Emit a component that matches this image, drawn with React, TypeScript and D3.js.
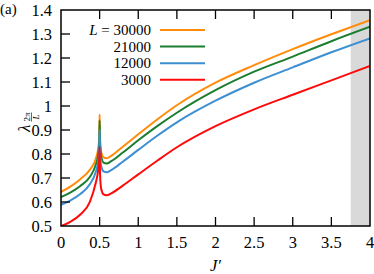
import * as d3 from "d3";

// J' sample points shared by all series
const jValues = [
  0, 0.125, 0.25, 0.375, 0.45, 0.48, 0.495, 0.5, 0.505, 0.52, 0.55, 0.59, 0.65,
  0.8, 1.0, 1.25, 1.5, 2.0, 2.5, 3.0, 3.5, 4.0,
];

const lambda30000 = [
  0.642, 0.665, 0.695, 0.735, 0.78, 0.82, 0.87, 0.965, 0.87, 0.81, 0.786, 0.782,
  0.792, 0.83, 0.882, 0.945, 1.003, 1.097, 1.17, 1.237, 1.299, 1.358,
];
const lambda21000 = [
  0.62, 0.64, 0.667, 0.705, 0.755, 0.795, 0.845, 0.94, 0.85, 0.79, 0.764, 0.76,
  0.77, 0.806, 0.857, 0.917, 0.972, 1.066, 1.143, 1.206, 1.27, 1.33,
];
const lambda12000 = [
  0.588, 0.607, 0.633, 0.675, 0.725, 0.765, 0.815, 0.9, 0.81, 0.75, 0.728,
  0.724, 0.733, 0.768, 0.817, 0.877, 0.932, 1.022, 1.097, 1.161, 1.224, 1.282,
];
const lambda3000 = [
  0.5, 0.518, 0.548, 0.602, 0.68, 0.73, 0.78, 0.83, 0.72, 0.655, 0.632, 0.628,
  0.636, 0.668, 0.715, 0.773, 0.828, 0.916, 0.986, 1.047, 1.107, 1.167,
];

const legendLabels = ["L = 30000", "21000", "12000", "3000"];
const seriesColors = ["#ff8c0a", "#1b7d2e", "#3d8fd1", "#ff0a0a"];
const xTicks = [0, 0.5, 1, 1.5, 2, 2.5, 3, 3.5, 4];
const yTicks = [0.5, 0.6, 0.7, 0.8, 0.9, 1, 1.1, 1.2, 1.3, 1.4];
const shadeFrom = 3.75;

const W = 374;
const H = 274;
const margin = { top: 10, right: 4, bottom: 48, left: 61 };
const font = "'Liberation Serif', 'DejaVu Serif', serif";

export default function App() {
  const innerW = W - margin.left - margin.right;
  const innerH = H - margin.top - margin.bottom;

  const x = d3.scaleLinear().domain([0, 4]).range([0, innerW]);
  const y = d3.scaleLinear().domain([0.5, 1.4]).range([innerH, 0]);

  const series = [lambda30000, lambda21000, lambda12000, lambda3000];
  const line = d3
    .line<number>()
    .x((_, i) => x(jValues[i]))
    .y((v) => y(v))
    .curve(d3.curveMonotoneX);

  const tick = 9;

  return (
    <svg
      width={W}
      height={H}
      style={{ position: "absolute", left: 0, top: 0, background: "#fff", fontFamily: font }}
    >
      <text x={0} y={14} fontSize={15}>
        (a)
      </text>

      {/* y label, rotated */}
      <g transform="translate(30,132) rotate(-90)">
        <text x={0} y={0} fontSize={17} fontStyle="italic">
          λ
        </text>
        <text x={15} y={-0.5} fontSize={9} textAnchor="middle">
          2π
        </text>
        <line x1={10.5} x2={19.5} y1={1.5} y2={1.5} stroke="#000" strokeWidth={0.6} />
        <text x={15} y={9} fontSize={9} fontStyle="italic" textAnchor="middle">
          L
        </text>
      </g>

      <g transform={`translate(${margin.left},${margin.top})`}>
        <rect
          x={x(shadeFrom)}
          y={0}
          width={x(4) - x(shadeFrom)}
          height={innerH}
          fill="#d9d9d9"
        />

        <defs>
          <clipPath id="plotclip">
            <rect x={0} y={0} width={innerW} height={innerH} />
          </clipPath>
        </defs>

        <g clipPath="url(#plotclip)">
          {series.map((s, i) => (
            <path
              key={legendLabels[i]}
              d={line(s) || ""}
              fill="none"
              stroke={seriesColors[i]}
              strokeWidth={2}
              strokeLinejoin="round"
            />
          ))}
        </g>

        {/* ticks */}
        {xTicks.slice(1, -1).map((t) => (
          <g key={`xt${t}`}>
            <line x1={x(t)} x2={x(t)} y1={innerH} y2={innerH - tick} stroke="#000" strokeWidth={1.3} />
            <line x1={x(t)} x2={x(t)} y1={0} y2={tick} stroke="#000" strokeWidth={1.3} />
          </g>
        ))}
        {yTicks.slice(1, -1).map((t) => (
          <line key={`yt${t}`} x1={0} x2={tick} y1={y(t)} y2={y(t)} stroke="#000" strokeWidth={1.3} />
        ))}

        {xTicks.map((t) => (
          <text key={`xl${t}`} x={x(t)} y={innerH + 22} fontSize={16.5} textAnchor="middle">
            {t}
          </text>
        ))}
        {yTicks.map((t) => (
          <text key={`yl${t}`} x={-9} y={y(t) + 5.5} fontSize={16.5} textAnchor="end">
            {t}
          </text>
        ))}

        <rect x={0} y={0} width={innerW} height={innerH} fill="none" stroke="#000" strokeWidth={1.5} />

        <text x={innerW / 2} y={innerH + 45} fontSize={16.5} fontStyle="italic" textAnchor="middle">
          J′
        </text>

        {/* legend */}
        {legendLabels.map((lab, i) => {
          const ly = 20 + i * 16.6;
          return (
            <g key={`lg${lab}`}>
              <text x={90} y={ly + 5} fontSize={15} textAnchor="end">
                {i === 0 ? (
                  <>
                    <tspan fontStyle="italic">L</tspan> = 30000
                  </>
                ) : (
                  lab
                )}
              </text>
              <line x1={99} x2={144} y1={ly} y2={ly} stroke={seriesColors[i]} strokeWidth={2} />
            </g>
          );
        })}
      </g>
    </svg>
  );
}
